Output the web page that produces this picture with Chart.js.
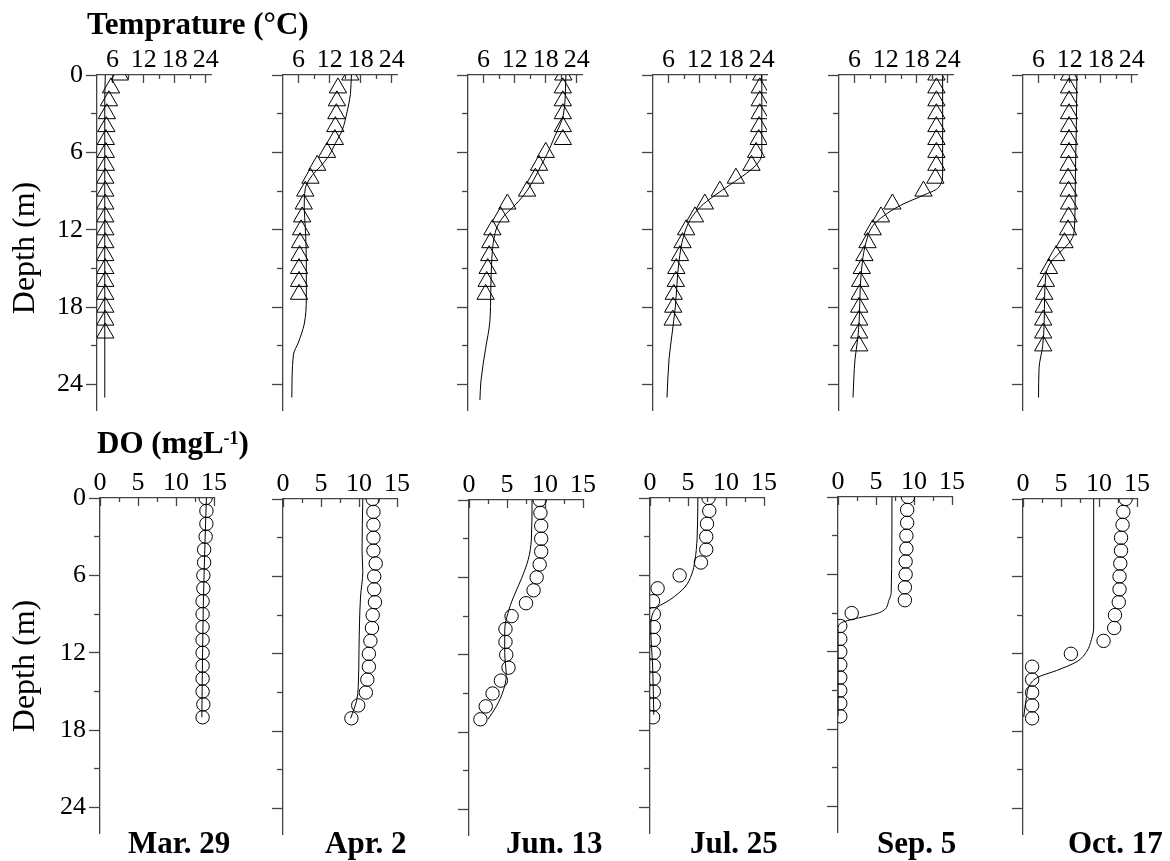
<!DOCTYPE html>
<html>
<head>
<meta charset="utf-8">
<script src="https://cdn.jsdelivr.net/npm/chart.js@4.4.1/dist/chart.umd.min.js"></script>
<style>
  html, body { margin: 0; padding: 0; background: #fff; }
  #fig { position: relative; width: 1170px; height: 861px; overflow: hidden;
         font-family: "Liberation Serif", "Times New Roman", serif; color: #000; }
  #fig canvas { position: absolute; }
  .lbl { position: absolute; white-space: nowrap; line-height: 31px; height: 31px; }
  .bold { font-weight: bold; font-size: 31px; }
  .sup { font-size: 18px; position: relative; top: -9px; }
  .ylab { position: absolute; width: 150px; height: 32px; line-height: 32px; font-size: 32px;
          text-align: center; white-space: nowrap; transform: rotate(-90deg); }
</style>
</head>
<body>
<div id="fig"></div>
<script>
// ---- sampling dates (one column per date) ----
const DATES = ['Mar. 29', 'Apr. 2', 'Jun. 13', 'Jul. 25', 'Sep. 5', 'Oct. 17'];

// ---- axis ticks ----
const DEPTH_TICKS = [0, 3, 6, 9, 12, 15, 18, 21, 24];
const TEMP_TICKS = [6, 9, 12, 15, 18, 21, 24];
const DO_TICKS = [0, 2.5, 5, 7.5, 10, 12.5, 15];

// ---- measured profiles: one reading per metre, starting at the surface ----
const OBS_DEPTHS = [0, 1, 2, 3, 4, 5, 6, 7, 8, 9, 10, 11, 12, 13, 14, 15, 16, 17, 18, 19, 20, 21];

const TEMP_OBS_MAR29 = [7.4, 5.7, 5.3, 4.9, 4.8, 4.7, 4.7, 4.7, 4.6, 4.6, 4.6, 4.6, 4.6, 4.6, 4.6, 4.6, 4.6, 4.6, 4.6, 4.6, 4.6];
const TEMP_OBS_APR2  = [16.0, 13.6, 13.4, 13.3, 13.1, 13.0, 11.5, 9.6, 8.3, 7.3, 7.0, 6.7, 6.5, 6.3, 6.2, 6.1, 6.1, 6.1];
const TEMP_OBS_JUN13 = [21.4, 21.3, 21.3, 21.3, 21.3, 21.3, 18.0, 16.7, 16.0, 14.4, 10.6, 9.3, 7.7, 7.3, 7.1, 6.8, 6.6, 6.4];
const TEMP_OBS_JUL25 = [23.9, 23.6, 23.6, 23.6, 23.5, 23.4, 22.9, 22.0, 19.0, 15.9, 13.0, 11.1, 9.4, 8.7, 8.2, 7.5, 7.4, 7.0, 6.9, 6.8];
const TEMP_OBS_SEP5  = [21.8, 21.8, 21.8, 21.8, 21.8, 21.8, 21.8, 21.8, 21.6, 19.3, 13.3, 11.1, 9.5, 8.5, 7.9, 7.4, 7.1, 7.0, 6.9, 6.9, 6.9, 6.9];
const TEMP_OBS_OCT17 = [11.9, 11.9, 11.9, 11.9, 11.9, 11.9, 11.9, 11.8, 11.7, 11.8, 11.9, 11.8, 11.7, 11.0, 9.4, 8.0, 7.4, 7.1, 7.0, 6.9, 6.9, 6.9];

const DO_OBS_MAR29 = [13.9, 14.0, 14.0, 13.9, 13.7, 13.7, 13.6, 13.6, 13.5, 13.5, 13.5, 13.5, 13.5, 13.5, 13.5, 13.5, 13.6, 13.5];
const DO_OBS_APR2  = [11.8, 11.9, 11.9, 11.9, 11.9, 12.2, 12.0, 12.0, 12.1, 11.8, 11.7, 11.5, 11.3, 11.3, 11.1, 10.9, 9.9, 9.0];
const DO_OBS_JUN13 = [9.3, 9.4, 9.5, 9.5, 9.5, 9.3, 8.9, 8.5, 7.5, 5.6, 4.8, 4.8, 4.9, 5.2, 4.2, 3.1, 2.2, 1.5];
const DO_OBS_JUL25 = [7.7, 7.8, 7.5, 7.4, 7.4, 6.7, 3.9, 1.0, 0.4, 0.5, 0.5, 0.5, 0.5, 0.5, 0.5, 0.5, 0.5, 0.4];
const DO_OBS_SEP5  = [9.2, 9.1, 9.1, 9.0, 9.0, 8.9, 8.9, 8.8, 8.8, 1.8, 0.3, 0.3, 0.3, 0.3, 0.3, 0.3, 0.3, 0.3];
const DO_OBS_OCT17 = [13.5, 13.2, 13.1, 12.9, 12.9, 12.8, 12.7, 12.7, 12.6, 12.1, 12.0, 10.6, 6.3, 1.2, 1.2, 1.2, 1.2, 1.2];

// ---- simulated profiles: depth (m) and value ----
const TEMP_SIM_DEPTH_MAR29 = [0, 2, 10, 25];
const TEMP_SIM_MAR29       = [4.6, 4.5, 4.5, 4.5];
const TEMP_SIM_DEPTH_APR2  = [0, 1.5, 2.8, 4.3, 5.3, 6.3, 7.1, 7.8, 8.8, 10.3, 11.8, 14.3, 17.3, 19.3, 20.7, 21.7, 25];
const TEMP_SIM_APR2        = [16.2, 16.0, 15.4, 14.4, 13.1, 11.8, 10.2, 8.6, 7.3, 7.1, 7.3, 7.5, 7.5, 7.1, 6.0, 5.0, 4.7];
const TEMP_SIM_DEPTH_JUN13 = [0, 3.1, 4.8, 6.1, 7.1, 8.1, 9.3, 10.2, 10.9, 11.7, 12.7, 14.2, 16.7, 19.2, 21.2, 23.7, 25.2];
const TEMP_SIM_JUN13       = [21.9, 21.4, 19.7, 18.3, 17.0, 15.7, 13.8, 11.8, 10.0, 8.7, 8.0, 7.6, 7.4, 7.2, 6.4, 5.5, 5.3];
const TEMP_SIM_DEPTH_JUL25 = [0, 6.1, 6.8, 7.6, 8.5, 9.4, 10.2, 11.2, 12.5, 14.5, 18, 20, 22, 25];
const TEMP_SIM_JUL25       = [24.0, 24.0, 23.3, 21.1, 17.9, 14.7, 12.2, 10.2, 8.9, 8.0, 7.3, 6.7, 6.1, 5.7];
const TEMP_SIM_DEPTH_SEP5  = [0, 7.6, 8.8, 9.3, 10.1, 10.9, 11.7, 13, 14.5, 16.5, 19, 20.5, 22, 25];
const TEMP_SIM_SEP5        = [23.0, 23.0, 22.0, 19.4, 14.9, 11.7, 9.5, 8.2, 7.5, 7.1, 6.9, 6.6, 6.1, 5.7];
const TEMP_SIM_DEPTH_OCT17 = [0, 4, 8, 12, 12.8, 13.8, 14.5, 15.5, 19, 21, 22.7, 25];
const TEMP_SIM_OCT17       = [13.4, 13.3, 13.1, 12.9, 12.3, 10.0, 8.4, 7.4, 7.1, 6.8, 6.1, 6.0];

const DO_SIM_DEPTH_MAR29 = [0, 8, 17];
const DO_SIM_MAR29       = [14.0, 13.6, 13.4];
const DO_SIM_DEPTH_APR2  = [0, 4, 5.6, 7.6, 11.6, 14.6, 15.6, 17];
const DO_SIM_APR2        = [10.5, 10.4, 10.5, 10.2, 10.0, 9.9, 9.7, 8.9];
const DO_SIM_DEPTH_JUN13 = [0, 3.1, 4.6, 6.1, 7.6, 8.8, 10.1, 11.8, 13.6, 14.8, 16.0, 17.0];
const DO_SIM_JUN13       = [8.3, 8.2, 7.8, 6.9, 5.8, 5.1, 4.7, 4.7, 4.9, 4.5, 3.6, 2.5];
const DO_SIM_DEPTH_JUL25 = [0, 3.1, 4.9, 5.9, 6.9, 7.9, 8.5, 9.3, 10.1, 13.1, 16.8];
const DO_SIM_JUL25       = [6.3, 6.2, 5.9, 5.5, 4.6, 2.6, 0.9, 0.2, 0.1, 0.35, 0.5];
const DO_SIM_DEPTH_SEP5  = [0, 7.4, 8.0, 8.9, 9.8, 10.2, 17];
const DO_SIM_SEP5        = [7.1, 7.0, 6.7, 5.7, 0.3, 0.0, 0.0];
const DO_SIM_DEPTH_OCT17 = [0, 10, 10.9, 11.8, 12.6, 13.3, 13.8, 14.4, 15.4, 16.9];
const DO_SIM_OCT17       = [9.3, 9.3, 9.0, 8.4, 7.1, 4.4, 2.0, 0.9, 0.45, 0.1];

const TEMP_OBS = [TEMP_OBS_MAR29, TEMP_OBS_APR2, TEMP_OBS_JUN13, TEMP_OBS_JUL25, TEMP_OBS_SEP5, TEMP_OBS_OCT17];
const TEMP_SIM_DEPTH = [TEMP_SIM_DEPTH_MAR29, TEMP_SIM_DEPTH_APR2, TEMP_SIM_DEPTH_JUN13, TEMP_SIM_DEPTH_JUL25, TEMP_SIM_DEPTH_SEP5, TEMP_SIM_DEPTH_OCT17];
const TEMP_SIM = [TEMP_SIM_MAR29, TEMP_SIM_APR2, TEMP_SIM_JUN13, TEMP_SIM_JUL25, TEMP_SIM_SEP5, TEMP_SIM_OCT17];
const DO_OBS = [DO_OBS_MAR29, DO_OBS_APR2, DO_OBS_JUN13, DO_OBS_JUL25, DO_OBS_SEP5, DO_OBS_OCT17];
const DO_SIM_DEPTH = [DO_SIM_DEPTH_MAR29, DO_SIM_DEPTH_APR2, DO_SIM_DEPTH_JUN13, DO_SIM_DEPTH_JUL25, DO_SIM_DEPTH_SEP5, DO_SIM_DEPTH_OCT17];
const DO_SIM = [DO_SIM_MAR29, DO_SIM_APR2, DO_SIM_JUN13, DO_SIM_JUL25, DO_SIM_SEP5, DO_SIM_OCT17];

// ---- layout ----
const FONT = '"Liberation Serif", "Times New Roman", serif';
const TICK_FONT_SIZE = 26;
const AXIS_COLOR = '#444';
const AREA_W = 114, AREA_H = 348;       // plot area of each small panel
const YW = 60, XH = 45, RP = 40, BP = 6; // room around the plot area inside each canvas
const TOP_ROW = { top: 75, left: [97, 283, 468, 653, 839, 1023] };
const BOTTOM_ROW = { top: [498, 499, 500, 498, 497, 499], left: [100, 283, 469, 650, 838, 1023] };

const fig = document.getElementById('fig');

function isMinorDepth(c) { return c.tick && c.tick.value % 6 !== 0; }

function makePanel(p) {
  const W = YW + AREA_W + RP, H = XH + AREA_H + BP;
  const cv = document.createElement('canvas');
  cv.width = W; cv.height = H;
  Object.assign(cv.style, { left: (p.left - YW) + 'px', top: (p.top - XH) + 'px', width: W + 'px', height: H + 'px' });
  fig.appendChild(cv);

  const obs = p.obs.map((v, i) => ({ x: v, y: OBS_DEPTHS[i] }));
  const sim = p.simDepth.map((d, i) => ({ x: p.sim[i], y: d }));
  const isMinorX = c => c.tick && !p.xMajor(c.tick.value);

  new Chart(cv, {
    type: 'line',
    data: {
      datasets: [
        { data: sim, showLine: true, borderColor: '#000', borderWidth: 1, fill: false,
          pointRadius: 0, pointHoverRadius: 0, cubicInterpolationMode: 'monotone', clip: 0 },
        { data: obs, showLine: false, pointStyle: p.marker, pointRadius: p.markerR, pointHoverRadius: p.markerR,
          pointBorderColor: '#000', pointBackgroundColor: 'rgba(0,0,0,0)', pointBorderWidth: 1, clip: 0 }
      ]
    },
    options: {
      responsive: false, animation: false, devicePixelRatio: 1, events: [],
      indexAxis: 'y',
      layout: { padding: { left: 0, top: 0, right: RP, bottom: BP }, autoPadding: false },
      plugins: { legend: { display: false }, tooltip: { enabled: false }, title: { display: false } },
      scales: {
        x: {
          type: 'linear', position: 'top', min: p.xMin, max: p.xMax,
          afterBuildTicks: s => { s.ticks = p.xTicks.map(v => ({ value: v })); },
          afterFit: s => { s.height = XH; },
          border: { display: true, color: AXIS_COLOR, width: 1.3 },
          grid: {
            drawOnChartArea: false, drawTicks: true, tickLength: -8,
            tickColor: AXIS_COLOR, tickWidth: 1.3,
            tickBorderDash: c => isMinorX(c) ? [4, 100] : [],
            tickBorderDashOffset: c => isMinorX(c) ? -4 : 0
          },
          ticks: {
            autoSkip: false, maxRotation: 0, minRotation: 0, padding: 7, color: '#000',
            font: { family: FONT, size: TICK_FONT_SIZE },
            callback: v => p.xMajor(v) ? String(v) : ''
          }
        },
        y: {
          type: 'linear', position: 'left', reverse: true, min: 0, max: 26,
          afterBuildTicks: s => { s.ticks = DEPTH_TICKS.map(v => ({ value: v })); },
          afterFit: s => { s.width = YW; },
          border: { display: true, color: AXIS_COLOR, width: 1.3 },
          grid: {
            drawOnChartArea: false, drawTicks: true, tickLength: 11,
            tickColor: AXIS_COLOR, tickWidth: 1.3,
            tickBorderDash: c => isMinorDepth(c) ? [6, 100] : [],
            tickBorderDashOffset: c => isMinorDepth(c) ? -5 : 0
          },
          ticks: {
            autoSkip: false, padding: 3, color: '#000',
            font: { family: FONT, size: TICK_FONT_SIZE },
            callback: v => (p.yLabels && v % 6 === 0) ? String(v) : ''
          }
        }
      }
    }
  });
}

for (let i = 0; i < DATES.length; i++) {
  // water temperature, top row
  makePanel({
    left: TOP_ROW.left[i], top: TOP_ROW.top,
    obs: TEMP_OBS[i], simDepth: TEMP_SIM_DEPTH[i], sim: TEMP_SIM[i],
    xMin: 3, xMax: 25, xTicks: TEMP_TICKS, xMajor: v => v % 6 === 0,
    marker: 'triangle', markerR: 10, yLabels: i === 0
  });
  // dissolved oxygen, bottom row
  makePanel({
    left: BOTTOM_ROW.left[i], top: BOTTOM_ROW.top[i],
    obs: DO_OBS[i], simDepth: DO_SIM_DEPTH[i], sim: DO_SIM[i],
    xMin: 0, xMax: 15, xTicks: DO_TICKS, xMajor: v => v % 5 === 0,
    marker: 'circle', markerR: 6.7, yLabels: i === 0
  });
}

// ---- text labels ----
function addLabel(html, cls, left, top) {
  const d = document.createElement('div');
  d.className = cls;
  d.innerHTML = html;
  d.style.left = left + 'px';
  d.style.top = top + 'px';
  fig.appendChild(d);
  return d;
}
addLabel('Temprature (°C)', 'lbl bold', 87, 7.5);
addLabel('DO (mgL<span class="sup">-1</span>)', 'lbl bold', 97, 427);
addLabel('Depth (m)', 'ylab', 22.5 - 75, 248 - 16);
addLabel('Depth (m)', 'ylab', 22.5 - 75, 666 - 16);
const DATE_LEFT = [128, 325, 506, 690, 877, 1068];
DATES.forEach((d, i) => addLabel(d, 'lbl bold', DATE_LEFT[i], 827));
</script>
</body>
</html>
